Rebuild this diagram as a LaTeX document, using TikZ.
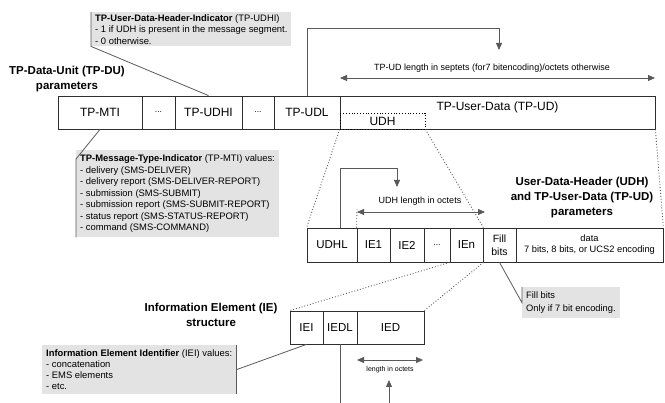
\documentclass[tikz,border=0pt]{standalone}
\usepackage{fontspec}
\setmainfont{Liberation Sans}
\usetikzlibrary{arrows.meta,calc}
\definecolor{cellLine}{HTML}{2E2E2E}
\definecolor{linkGray}{HTML}{5A5A5A}
\definecolor{noteFill}{HTML}{E3E3E3}
\newcommand\celldots{{\fontsize{8.5}{9}\selectfont...}}

\begin{document}
\begin{tikzpicture}[x=1pt,y=-1pt,
  >={Triangle[length=7pt,width=6pt]},
  cell/.style={draw=cellLine, line width=0.8pt, inner sep=0pt, minimum height=33, font=\fontsize{12}{13}\selectfont},
  title/.style={align=center, font=\fontsize{11.5}{15}\selectfont\bfseries},
  note/.style={fill=noteFill, anchor=north west, align=left, inner xsep=4pt, inner ysep=0pt, font=\fontsize{9.4}{11.5}\selectfont},
  link/.style={draw=linkGray, line width=0.8pt},
  zoomline/.style={draw=linkGray, dotted, line width=0.9pt},
  dimtext/.style={font=\fontsize{9}{10}\selectfont}]

\useasboundingbox (0,0) rectangle (665,403);

% TP-DU row
\foreach \n/\x/\w/\t in {mti/100/84/TP-MTI, dotsa/158.5/33/\celldots, udhi/208.5/67/TP-UDHI, dotsb/258/32/\celldots, udl/307/66/TP-UDL, ud/497.5/315/{}}
  \node[cell, minimum width=\w] (\n) at (\x,112.5) {\t};
\node[font=\fontsize{12}{13}\selectfont] (udname) at (497.5,107) {TP-User-Data (TP-UD)};
\node[draw=black, dotted, line width=0.8pt, inner sep=0pt, minimum width=85, minimum height=16, font=\fontsize{12}{13}\selectfont] (udh) at (382.5,121) {UDH};
\node[title] (dutitle) at (67,79.5) {TP-Data-Unit (TP-DU)\\parameters};

% TP-UDL length bracket
\coordinate (udlenTop) at (499,50);
\coordinate (udlenL) at (340,78);
\coordinate (udlenR) at (655,78);
\draw[link,->] (udl.north) |- ($(udlenTop)+(0,-22)$) -- (udlenTop);
\draw[link,<->] (udlenL) -- (udlenR);
\node[dimtext] (udlentext) at (492,68) {TP-UD length in septets (for7 bitencoding)/octets otherwise};

% callouts of the TP-DU row
\node[note, minimum height=34] (udhinote) at (91,12) {\textbf{TP-User-Data-Header-Indicator} (TP-UDHI)\\- 1 if UDH is present in the message segment.\\- 0 otherwise.};
\draw[link] (udhi.north) -- (udhinote.south west) -- (udhinote.north west);
\node[note, minimum height=87] (mtinote) at (76,150) {\textbf{TP-Message-Type-Indicator} (TP-MTI) values:\\- delivery (SMS-DELIVER)\\- delivery report (SMS-DELIVER-REPORT)\\- submission (SMS-SUBMIT)\\- submission report (SMS-SUBMIT-REPORT)\\- status report (SMS-STATUS-REPORT)\\- command (SMS-COMMAND)};
\draw[link] (mti.south) -- ($(mtinote.north west)+(0,9)$) -- (mtinote.south west);

% UDH row
\foreach \n/\x/\w/\t in {udhl/332/50/UDHL, iea/373.5/33/IE1, ieb/407/34/IE2, dotsc/437/26/\celldots, ien/466.5/33/IEn}
  \node[cell, minimum width=\w, minimum height=34, font=\fontsize{11.5}{13}\selectfont] (\n) at (\x,245) {\t};
\node[cell, minimum width=33, minimum height=34, align=center, font=\fontsize{10.5}{12.5}\selectfont] (fillb) at (499.5,245) {Fill\\bits};
\node[cell, minimum width=147, minimum height=34, align=center, font=\fontsize{9.3}{11}\selectfont] (data) at (589.5,245) {data\\7 bits, 8 bits, or UCS2 encoding};
\node[title] (udhtitle) at (582,197.5) {User-Data-Header (UDH)\\and TP-User-Data (TP-UD)\\parameters};

\draw[zoomline] (udh.south west) -- (udhl.north west);
\draw[zoomline] (udh.south east) -- (ien.north east);
\draw[zoomline] (ud.south east) -- (data.north east);

% UDHL length bracket
\coordinate (hdrlenTop) at (397,187);
\coordinate (hdrlenL) at (357,212);
\coordinate (hdrlenR) at (485,212);
\draw[link,->] ([xshift=8pt]udhl.north) |- ($(hdrlenTop)+(0,-19)$) -- (hdrlenTop);
\draw[link,<->] (hdrlenL) -- (hdrlenR);
\draw[zoomline] (iea.north west) -- ($(hdrlenL)+(0,-4)$);
\node[dimtext] (hdrlentext) at (420,201) {UDH length in octets};

\node[note, minimum height=31, font=\fontsize{9.3}{12.5}\selectfont] (fillnote) at (522,287) {Fill bits\\Only if 7 bit encoding.};
\draw[link] (fillb.south) -- (fillnote.west) -- (fillnote.north west);

% IE row
\foreach \n/\x/\w/\t in {iei/306.5/33/IEI, iedl/340/34/IEDL, ied/390.5/67/IED}
  \node[cell, minimum width=\w, font=\fontsize{11.5}{13}\selectfont] (\n) at (\x,327.5) {\t};
\node[title] (ietitle) at (211,315) {Information Element (IE)\\structure};
\draw[zoomline] (ien.south west) -- (iei.north west);
\draw[zoomline] (ien.south east) -- (ied.north east);

\node[note, minimum height=49, font=\fontsize{9.4}{11}\selectfont] (ieinote) at (42,345) {\textbf{Information Element Identifier} (IEI) values:\\- concatenation\\- EMS elements\\- etc.};
\draw[link] (iei.south) -- (ieinote.east);
\draw[link] (ieinote.north east) -- (ieinote.south east);

% IED length
\coordinate (iedlEnd) at (340,403);
\coordinate (iedL) at (357,360);
\coordinate (iedR) at (423,360);
\coordinate (iedUp) at (389,380);
\coordinate (iedFoot) at (389,403);
\draw[link] (iedl.south) -- (iedlEnd);
\draw[link,<->] (iedL) -- (iedR);
\draw[link,->] (iedFoot) -- (iedUp);
\node[font=\fontsize{7}{8}\selectfont] (iedtext) at (390,369.5) {length in octets};
\end{tikzpicture}
\end{document}
